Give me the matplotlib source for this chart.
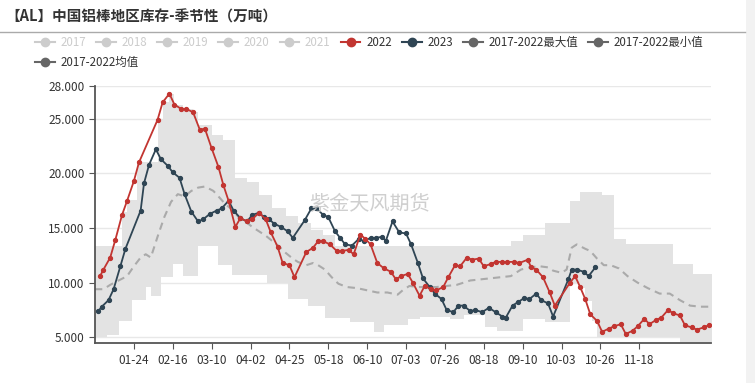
import numpy as np
import pandas as pd
import matplotlib
matplotlib.use('Agg')
import matplotlib.pyplot as plt
from matplotlib.lines import Line2D
from matplotlib.patches import Rectangle

plt.rcParams['font.family'] = ['Noto Sans CJK SC', 'DejaVu Sans']

# x values: days counted from 01-01 (chart axis uses a leap-year calendar)
days_2022 = [3, 5, 9, 12, 16, 19, 23, 26, 37, 40, 44, 47, 51, 54, 58, 62, 65, 69, 73, 76,
             79, 83, 86, 90, 93, 97, 101, 104, 108, 111, 115, 118, 125, 129, 132, 135, 139, 143, 146, 150,
             153, 157, 160, 163, 167, 171, 175, 178, 181, 185, 188, 192, 195, 199, 202, 206, 209, 213, 216, 220,
             223, 227, 230, 234, 237, 241, 244, 248, 251, 256, 258, 261, 265, 269, 272, 281, 284, 287, 290, 293,
             297, 300, 304, 307, 311, 314, 318, 321, 325, 328, 332, 335, 339, 342, 346, 349, 353, 356, 360, 363]
vals_2022 = [10.6, 11.2, 12.3, 13.9, 16.2, 17.5, 19.3, 21.0, 24.9, 26.5, 27.3, 26.3, 25.9, 25.9, 25.6, 24.0, 24.1, 22.3, 20.6, 18.9,
             17.5, 15.1, 15.9, 15.6, 15.8, 16.4, 15.8, 14.6, 13.3, 11.8, 11.6, 10.5, 12.8, 13.2, 13.8, 13.8, 13.5, 12.9, 12.9, 13.0,
             12.6, 14.4, 14.0, 13.5, 11.8, 11.3, 11.0, 10.3, 10.6, 10.8, 10.0, 8.8, 9.7, 9.4, 9.3, 9.6, 10.5, 11.6, 11.5, 12.3,
             12.1, 12.2, 11.5, 11.7, 11.9, 11.9, 11.9, 11.9, 11.8, 12.1, 11.4, 11.2, 10.5, 9.1, 7.9, 10.0, 10.6, 9.6, 8.5, 7.1,
             6.5, 5.5, 5.8, 6.0, 6.2, 5.3, 5.6, 6.0, 6.7, 6.2, 6.6, 6.8, 7.5, 7.2, 7.0, 6.1, 5.9, 5.7, 5.9, 6.1]

days_2023 = [2, 4, 8, 11, 15, 18, 27, 29, 32, 36, 39, 43, 46, 50, 53, 57, 61, 64, 68, 72,
             75, 79, 82, 86, 90, 93, 97, 100, 103, 106, 110, 114, 117, 124, 128, 131, 135, 138, 142, 145,
             148, 152, 156, 159, 163, 166, 170, 172, 176, 180, 184, 187, 191, 194, 198, 201, 205, 208, 212, 215,
             218, 222, 225, 229, 233, 237, 241, 243, 247, 250, 254, 257, 261, 264, 268, 271, 280, 282, 285, 289,
             292, 296]
vals_2023 = [7.4, 7.8, 8.4, 9.4, 11.5, 13.1, 16.6, 19.1, 20.8, 22.2, 21.3, 20.7, 20.1, 19.6, 18.1, 16.5, 15.6, 15.8, 16.3, 16.6,
             16.8, 17.5, 16.6, 15.9, 15.6, 16.2, 16.4, 16.0, 15.8, 15.4, 15.1, 14.7, 14.1, 15.7, 16.8, 16.8, 16.2, 16.0, 14.7, 14.1,
             13.5, 13.4, 14.0, 13.8, 14.1, 14.1, 14.2, 13.8, 15.6, 14.6, 14.5, 13.5, 11.8, 10.4, 9.6, 9.0, 8.5, 7.5, 7.3, 7.9,
             7.9, 7.4, 7.5, 7.3, 7.7, 7.3, 6.9, 6.8, 7.9, 8.2, 8.6, 8.5, 9.0, 8.4, 8.1, 6.9, 10.3, 11.2, 11.2, 11.0,
             10.6, 11.4]

mean_days = [0, 5, 9, 14, 19, 23, 27, 30, 33, 37, 41, 45, 49, 53, 57, 61, 65, 70, 73, 77,
             81, 85, 89, 93, 97, 101, 105, 109, 113, 117, 120, 125, 129, 132, 136, 140, 144, 149, 155, 161,
             167, 173, 179, 182, 186, 191, 197, 202, 208, 214, 222, 228, 234, 240, 246, 252, 257, 263, 268, 271,
             276, 279, 282, 285, 290, 293, 297, 301, 305, 310, 315, 321, 327, 334, 340, 346, 352, 358, 364]
mean_vals = [9.4, 9.4, 9.8, 10.2, 10.6, 11.5, 12.3, 12.6, 12.3, 14.2, 16.0, 17.4, 18.1, 17.9, 18.4, 18.7, 18.8, 18.4, 17.9, 17.2,
             16.7, 16.0, 15.6, 15.1, 14.7, 14.3, 13.8, 13.3, 12.7, 12.2, 11.9, 11.6, 11.8, 11.6, 11.2, 10.5, 9.9, 9.6, 9.5, 9.3,
             9.1, 9.1, 8.9, 9.3, 9.7, 9.6, 9.6, 9.6, 9.7, 9.8, 10.2, 10.3, 10.4, 10.5, 10.6, 11.2, 11.4, 11.5, 11.4, 11.1,
             10.9, 11.2, 13.2, 13.5, 13.1, 12.9, 12.2, 11.6, 11.6, 11.3, 10.6, 10.0, 9.5, 9.0, 9.0, 8.4, 7.9, 7.8, 7.8]

# 2017-2022 max / min, drawn as steps
max_days = [0, 16, 19, 25, 37, 40, 44, 47, 52, 58, 61, 69, 76, 83, 90, 97, 105, 113, 120, 128,
            135, 142, 246, 253, 266, 281, 287, 300, 307, 314, 342, 354, 366]
max_vals = [13.4, 16.5, 17.6, 21.0, 25.0, 26.5, 27.3, 26.3, 25.9, 25.6, 24.4, 23.5, 23.1, 19.6, 19.2, 18.0, 16.8, 16.1, 15.5, 14.8,
            14.4, 13.4, 13.8, 14.4, 15.5, 17.5, 18.3, 18.0, 14.0, 13.5, 11.7, 10.8, 10.8]
min_days = [0, 7, 14, 22, 30, 33, 39, 46, 52, 61, 73, 81, 102, 114, 126, 136, 151, 165, 171, 185,
            192, 210, 218, 231, 238, 253, 266, 281, 287, 290, 294, 297, 346, 366]
min_vals = [5.0, 5.2, 6.5, 8.4, 9.6, 8.8, 10.5, 11.7, 10.6, 13.4, 11.6, 10.7, 10.0, 8.5, 7.9, 6.8, 6.4, 5.5, 6.1, 6.7,
            6.9, 6.7, 7.0, 5.9, 5.6, 6.7, 6.4, 10.0, 9.5, 8.3, 6.5, 5.0, 4.6, 4.6]

yticks = [5, 10, 15, 20, 25, 28]
xtick_days = [23 * k for k in range(1, 15)]

legend_labels = ['2017', '2018', '2019', '2020', '2021', '2022', '2023', '2017-2022最大值', '2017-2022最小值']
legend_colors = ['#cccccc'] * 5 + ['#c23531', '#2f4554', '#666666', '#666666']

title = '【AL】中国铝棒地区库存-季节性（万吨）'

RED = '#c23531'
NAVY = '#2f4554'

fig = plt.figure(figsize=(7.55, 3.83), dpi=100)
ax = fig.add_axes([95 / 755, 1 - 343.3 / 383, (711 - 95) / 755, (343.3 - 86) / 383])

# band between min and max
grid = np.union1d(max_days, min_days)
hi = np.array(max_vals)[np.searchsorted(max_days, grid, side='right') - 1]
lo = np.array(min_vals)[np.searchsorted(min_days, grid, side='right') - 1]
ax.fill_between(grid, lo, hi, step='post', color='#e3e3e3', lw=0, zorder=1)

ax.plot(mean_days, mean_vals, color='#aaaaaa', lw=1.5, ls=(0, (3.5, 2.5)), zorder=2)
ax.plot(days_2022, vals_2022, color=RED, lw=1.3, marker='o', ms=2.8, zorder=4)
ax.plot(days_2023, vals_2023, color=NAVY, lw=1.3, marker='o', ms=2.8, zorder=3)

ax.set_xlim(0, 364.4)
ax.set_ylim(4.45, 28)
ax.set_yticks(yticks)
ax.set_yticklabels(['%.3f' % v for v in yticks])
ax.set_xticks(xtick_days)
base = pd.Timestamp('2020-01-01')
ax.set_xticklabels([(base + pd.Timedelta(days=d)).strftime('%m-%d') for d in xtick_days])
ax.grid(axis='y', color='#e8e8e8', lw=1, zorder=0)
ax.set_axisbelow(True)
for s in ['top', 'right']:
    ax.spines[s].set_visible(False)
for s in ['left', 'bottom']:
    ax.spines[s].set_color('#555555')
    ax.spines[s].set_linewidth(1.3)
ax.tick_params(axis='both', labelsize=8.5, colors='#555555', labelcolor='#333333', length=4)

ax.text(0.446, 0.54, '紫金天风期货', transform=ax.transAxes, fontsize=14.5,
        color='#cfcfcf', ha='center', va='center', zorder=5)

# title and separator
fig.text(5 / 755, 1 - 17 / 383, title, fontsize=10.5, fontweight='bold', color='#333333', va='center')
fig.add_artist(Line2D([0, 745 / 755], [1 - 32 / 383] * 2, color='#aaaaaa', lw=1))
fig.add_artist(Rectangle((746 / 755, 0), 9 / 755, 1, color='#f2f2f2', lw=0))

handles = [Line2D([], [], color=c, marker='o', ms=6, lw=1.5) for c in legend_colors]
leg1 = fig.legend(handles, legend_labels, loc='upper left', bbox_to_anchor=(35 / 755, 1 - 36 / 383),
                  ncol=9, frameon=False, fontsize=8.3, handlelength=1.7, handletextpad=0.5,
                  columnspacing=0.88, borderaxespad=0, borderpad=0)
for t, c in zip(leg1.get_texts(), legend_colors):
    t.set_color('#cccccc' if c == '#cccccc' else '#333333')
leg2 = fig.legend([Line2D([], [], color='#666666', marker='o', ms=6, lw=1.5)], ['2017-2022均值'],
                  loc='upper left', bbox_to_anchor=(35 / 755, 1 - 56 / 383), frameon=False,
                  fontsize=8.3, handlelength=1.7, handletextpad=0.5, borderaxespad=0, borderpad=0)
leg2.get_texts()[0].set_color('#333333')

fig.savefig('out.png', dpi=100)
